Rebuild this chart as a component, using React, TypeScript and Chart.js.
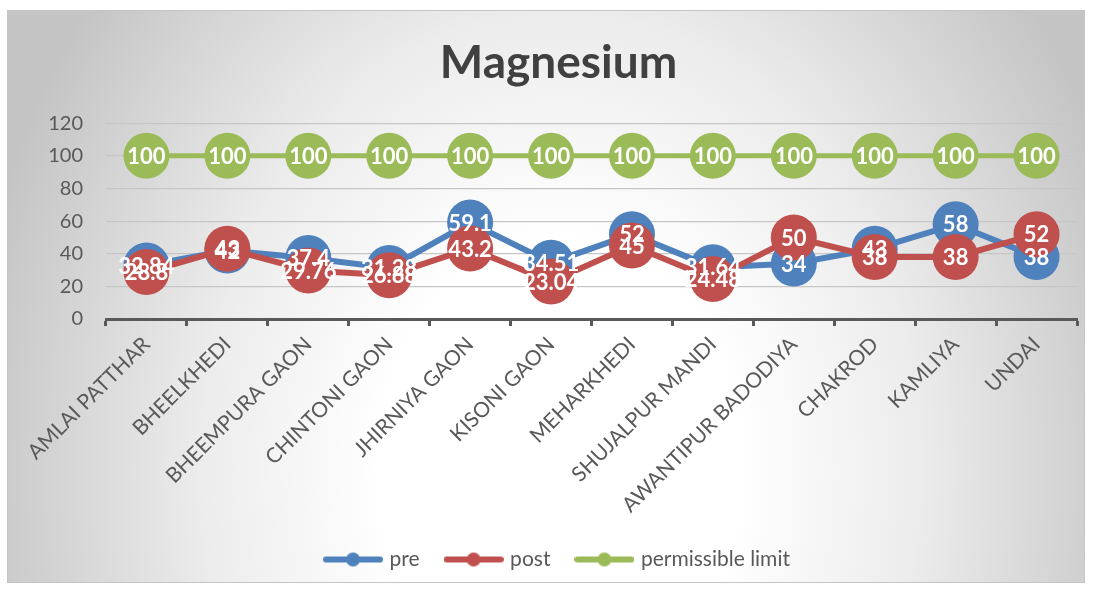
import { useEffect, useRef } from "react";
import { Chart, registerables } from "chart.js";

Chart.register(...registerables);

// Sampling sites along the x axis
const sites = [
  "AMLAI PATTHAR",
  "BHEELKHEDI",
  "BHEEMPURA GAON",
  "CHINTONI GAON",
  "JHIRNIYA GAON",
  "KISONI GAON",
  "MEHARKHEDI",
  "SHUJALPUR MANDI",
  "AWANTIPUR BADODIYA",
  "CHAKROD",
  "KAMLIYA",
  "UNDAI",
];

// Magnesium readings (mg/l)
const preValues = [32.84, 42, 37.4, 31.28, 59.1, 34.51, 52, 31.64, 34, 43, 58, 38];
const postValues = [28.8, 43, 29.76, 26.88, 43.2, 23.04, 45, 24.48, 50, 38, 38, 52];
const limitValues = [100, 100, 100, 100, 100, 100, 100, 100, 100, 100, 100, 100];

// Value axis ticks
const yTicks = [0, 20, 40, 60, 80, 100, 120];

const seriesNames = ["pre", "post", "permissible limit"];
const BLUE = "#4F81BD";
const RED = "#C0504D";
const GREEN = "#9BBB59";
const TEXT = "#595959";
const FONT = "Lato, 'Open Sans', sans-serif";

// Legend swatch: a short line with a round marker in the middle
function makeSwatch(color: string): HTMLCanvasElement {
  const c = document.createElement("canvas");
  c.width = 60;
  c.height = 16;
  const g = c.getContext("2d")!;
  g.strokeStyle = color;
  g.lineWidth = 6;
  g.lineCap = "round";
  g.beginPath();
  g.moveTo(3, 8);
  g.lineTo(57, 8);
  g.stroke();
  g.fillStyle = color;
  g.beginPath();
  g.arc(30, 8, 7, 0, Math.PI * 2);
  g.fill();
  return c;
}

// Soft grey radial background with a thin frame
const backdrop = {
  id: "backdrop",
  beforeDraw(chart: any) {
    const { ctx, width, height } = chart;
    ctx.save();
    ctx.fillStyle = "#ffffff";
    ctx.fillRect(0, 0, width, height);
    const x0 = 7, y0 = 10, x1 = 1085, y1 = 583;
    const cx = 560, cy = 470;
    const rx = 600, ry = 760;
    ctx.save();
    ctx.beginPath();
    ctx.rect(x0, y0, x1 - x0, y1 - y0);
    ctx.clip();
    ctx.translate(cx, cy);
    ctx.scale(rx / ry, 1);
    const grad = ctx.createRadialGradient(0, 0, 0, 0, 0, ry);
    grad.addColorStop(0, "#ffffff");
    grad.addColorStop(0.3, "#ffffff");
    grad.addColorStop(0.6, "#ececec");
    grad.addColorStop(1, "#c4c4c4");
    ctx.fillStyle = grad;
    ctx.fillRect(-cx * 3, -cy * 3, width * 4, height * 4);
    ctx.restore();
    ctx.strokeStyle = "#c4c4c4";
    ctx.lineWidth = 1;
    ctx.strokeRect(x0 + 0.5, y0 + 0.5, x1 - x0 - 1, y1 - y0 - 1);
    ctx.restore();
  },
};

// White value labels centred on each marker
const valueLabels = {
  id: "valueLabels",
  afterDatasetsDraw(chart: any) {
    const ctx = chart.ctx;
    ctx.save();
    ctx.font = `bold 22px ${FONT}`;
    ctx.fillStyle = "#ffffff";
    ctx.textAlign = "center";
    ctx.textBaseline = "middle";
    chart.data.datasets.forEach((ds: any, i: number) => {
      const meta = chart.getDatasetMeta(i);
      meta.data.forEach((pt: any, j: number) => {
        ctx.fillText(String(ds.data[j]), pt.x, pt.y + 1);
      });
    });
    ctx.restore();
  },
};

export default function App() {
  const canvasRef = useRef<HTMLCanvasElement | null>(null);

  useEffect(() => {
    const canvas = canvasRef.current;
    if (!canvas) return;
    const colors = [BLUE, RED, GREEN];
    const swatches = colors.map(makeSwatch);

    const line = (label: string, data: number[], color: string, order: number, width: number) => ({
      label,
      data,
      borderColor: color,
      backgroundColor: color,
      borderWidth: width,
      pointRadius: 23,
      pointHoverRadius: 23,
      pointBorderWidth: 0,
      pointBackgroundColor: color,
      tension: 0,
      order,
    });

    const chart = new Chart(canvas, {
      type: "line",
      data: {
        labels: sites,
        datasets: [
          line(seriesNames[0], preValues, BLUE, 2, 6),
          line(seriesNames[1], postValues, RED, 1, 6),
          line(seriesNames[2], limitValues, GREEN, 3, 5),
        ],
      },
      options: {
        responsive: false,
        animation: false,
        devicePixelRatio: 1,
        layout: { autoPadding: false, padding: { left: 40, right: 16, top: 0, bottom: 13 } },
        plugins: {
          title: {
            display: true,
            text: "Magnesium",
            color: "#404040",
            font: { family: FONT, size: 46, weight: "bold", lineHeight: 1.2 },
            padding: { top: 36, bottom: 32 },
          },
          legend: {
            display: true,
            position: "bottom",
            labels: {
              usePointStyle: true,
              pointStyleWidth: 52,
              padding: 28,
              color: TEXT,
              font: { family: FONT, size: 21 },
              generateLabels: (c: any) =>
                c.data.datasets.map((ds: any, i: number) => ({
                  text: ds.label,
                  fillStyle: colors[i],
                  strokeStyle: colors[i],
                  lineWidth: 0,
                  pointStyle: swatches[i],
                  hidden: false,
                  datasetIndex: i,
                  fontColor: TEXT,
                })),
            },
          },
          tooltip: { enabled: false },
        },
        scales: {
          x: {
            offset: true,
            afterFit: (s: any) => {
              s.height = 202;
              s.paddingLeft = 0;
              s.paddingRight = 0;
            },
            grid: {
              offset: true,
              drawOnChartArea: false,
              drawTicks: true,
              tickLength: 7,
              tickColor: TEXT,
              tickWidth: 3,
            },
            border: { display: true, color: TEXT, width: 3 },
            ticks: {
              autoSkip: false,
              maxRotation: 45,
              minRotation: 45,
              padding: 6,
              color: TEXT,
              font: { family: FONT, size: 21 },
            },
          },
          y: {
            min: yTicks[0],
            max: yTicks[yTicks.length - 1],
            afterFit: (s: any) => {
              s.width = 66;
            },
            afterBuildTicks: (s: any) => {
              s.ticks = yTicks.map((v) => ({ value: v }));
            },
            grid: { color: "#c6c6c6", lineWidth: 1.2, drawTicks: false },
            border: { display: false },
            ticks: {
              padding: 23,
              color: TEXT,
              font: { family: FONT, size: 20 },
            },
          },
        },
      },
      plugins: [backdrop, valueLabels],
    } as any);

    return () => chart.destroy();
  }, []);

  return (
    <div style={{ position: "absolute", left: 0, top: 0, width: 1093, height: 593 }}>
      <canvas ref={canvasRef} width={1093} height={593} />
    </div>
  );
}
